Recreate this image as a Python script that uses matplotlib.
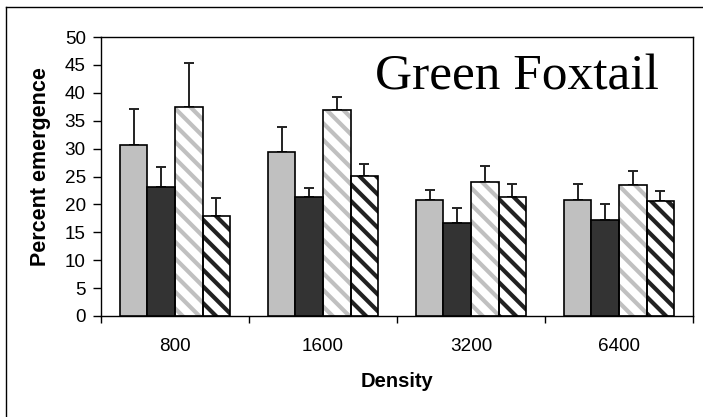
import numpy as np
import matplotlib
matplotlib.use("Agg")
import matplotlib.pyplot as plt
from matplotlib.lines import Line2D

# data
densities = ["800", "1600", "3200", "6400"]
means = [
    [30.6, 29.4, 20.7, 20.7],
    [23.2, 21.4, 16.6, 17.2],
    [37.4, 36.9, 24.0, 23.4],
    [17.9, 25.1, 21.4, 20.6],
]
errors = [
    [6.5, 4.5, 1.9, 3.0],
    [3.5, 1.5, 2.8, 2.9],
    [8.0, 2.3, 2.9, 2.5],
    [3.2, 2.1, 2.3, 1.8],
]
y_ticks = list(range(0, 55, 5))

# style for each series: face, hatch colour, hatch
faces = ["#c0c0c0", "#333333", "white", "white"]
hatch_cols = [None, None, "#c0c0c0", "#222222"]
hatches = [None, None, "\\\\", "\\\\"]

plt.rcParams["font.family"] = "Liberation Sans"
plt.rcParams["hatch.linewidth"] = 3.0

fig = plt.figure(figsize=(7.03, 4.17), dpi=100)
ax = fig.add_axes([101 / 703, 1 - 316 / 417, 592 / 703, 279 / 417])

x = np.arange(len(densities))
w = 0.186
for i in range(4):
    pos = x + (i - 1.5) * w
    if hatches[i]:
        ax.bar(pos, means[i], w, color=faces[i], edgecolor=hatch_cols[i],
               hatch=hatches[i], linewidth=0, zorder=2)
        ax.bar(pos, means[i], w, fill=False, edgecolor="black", linewidth=1.2, zorder=3)
    else:
        ax.bar(pos, means[i], w, color=faces[i], edgecolor="black", linewidth=1.2, zorder=3)
    ax.errorbar(pos, means[i], yerr=[np.zeros(4), errors[i]], fmt="none",
                ecolor="#222222", elinewidth=1.4, capsize=3.6, capthick=1.4, zorder=1)

ax.set_xlim(-0.5, 3.5)
ax.set_ylim(0, 50)
ax.set_yticks(y_ticks)
ax.set_xticks(np.arange(-0.5, 4, 1))
ax.set_xticklabels([])
ax.set_xticks(x, minor=True)
ax.set_xticklabels(densities, minor=True, fontsize=13.6)
ax.tick_params(axis="x", which="major", direction="out", length=5, width=1)
ax.tick_params(axis="x", which="minor", length=0, pad=16)
ax.tick_params(axis="y", direction="out", length=6, width=1, labelsize=13.6, pad=5)
for s in ax.spines.values():
    s.set_linewidth(1)
    s.set_color("black")

ax.set_xlabel("Density", fontsize=14.5, fontweight="bold", labelpad=12)
ax.set_ylabel("Percent emergence", fontsize=15.5, fontweight="bold")
ax.yaxis.set_label_coords(-0.085, 0.535)

fig.text(375 / 703, 1 - 90 / 417, "Green Foxtail", fontsize=37,
         family="Liberation Serif", ha="left", va="baseline")

# outer chart frame (left and top edges visible)
fig.add_artist(Line2D([6 / 703, 6 / 703], [0, 1 - 7 / 417], transform=fig.transFigure,
                      color="black", lw=1))
fig.add_artist(Line2D([6 / 703, 1], [1 - 7 / 417, 1 - 7 / 417], transform=fig.transFigure,
                      color="black", lw=1))

fig.savefig("out.png", dpi=100)
